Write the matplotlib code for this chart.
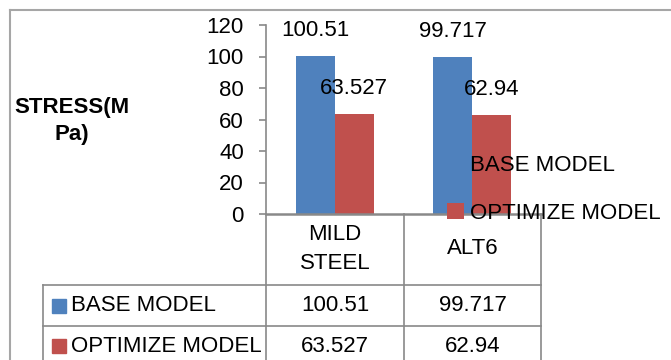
import matplotlib.pyplot as plt
import numpy as np
from matplotlib.lines import Line2D
from matplotlib.patches import Rectangle

# -----------------------------
# Data
# -----------------------------
categories = ["MILD\nSTEEL", "ALT6"]
series_names = ["BASE MODEL", "OPTIMIZE MODEL"]
base_model = [100.51, 99.717]
optimize_model = [63.527, 62.94]
value_text = [["100.51", "99.717"], ["63.527", "62.94"]]
colors = ["#4F81BD", "#C0504D"]

plt.rcParams["font.family"] = ["Liberation Sans", "DejaVu Sans"]
FS = 16
GRID = "#898989"

W, H = 671, 360
fig = plt.figure(figsize=(W / 100, H / 100), dpi=100)


def fx(px):
    return px / W


def fy(py):
    return 1 - py / H


# plot area in pixel coords
x0, x1, ytop, ybot = 266, 541, 25, 214
ax = fig.add_axes([fx(x0), fy(ybot), fx(x1 - x0), (ybot - ytop) / H])

x = np.arange(len(categories))
bw = 0.285
all_series = [base_model, optimize_model]
for i, vals in enumerate(all_series):
    off = (i - 0.5) * bw
    bars = ax.bar(x + off, vals, bw, color=colors[i], label=series_names[i],
                  edgecolor="none", zorder=2)
    for b, t in zip(bars, value_text[i]):
        ax.annotate(t, (b.get_x() + b.get_width() / 2, b.get_height()),
                    xytext=(0, 18), textcoords="offset points",
                    ha="center", va="center", fontsize=FS, zorder=5)

ax.set_xlim(-0.5, len(categories) - 0.5)
ax.set_ylim(0, 120)
ax.set_yticks(range(0, 121, 20))
ax.set_xticks([])
ax.tick_params(axis="y", labelsize=FS, length=5, color=GRID, width=1.2, pad=11)
for s in ["top", "right"]:
    ax.spines[s].set_visible(False)
ax.spines["left"].set_color(GRID)
ax.spines["left"].set_linewidth(1.2)
ax.spines["bottom"].set_color(GRID)
ax.spines["bottom"].set_linewidth(1.8)
ax.patch.set_alpha(0)

# legend sitting on the right, overlapping the bars like the original
leg = ax.legend(loc="upper left", bbox_to_anchor=(fx(438), fy(146)),
                bbox_transform=fig.transFigure, frameon=False, fontsize=FS,
                handlelength=0.75, handleheight=0.75, handletextpad=0.3,
                labelspacing=1.2, borderaxespad=0)
leg.set_zorder(10)

# y label
fig.text(fx(72), fy(121), "STRESS(M\nPa)", ha="center", va="center",
         fontsize=16, fontweight="bold", linespacing=1.4)

# -----------------------------
# Data table under the axis
# -----------------------------
cols = [266, 404, 541]
rows = [285, 326, 366]
tl = 43


def line(xs, ys, lw=1.2):
    fig.add_artist(Line2D([fx(v) for v in xs], [fy(v) for v in ys],
                          color=GRID, lw=lw))


for c in cols:
    line([c, c], [214, 362])
line([tl, tl], [285, 362])
line([tl, cols[-1]], [285, 285])
line([tl, cols[-1]], [326, 326])

col_centers = [(cols[j] + cols[j + 1]) / 2 for j in range(len(categories))]
for cx, cat in zip(col_centers, categories):
    fig.text(fx(cx), fy(249), cat, ha="center", va="center", fontsize=FS,
             linespacing=1.5)

row_centers = [(rows[k] + rows[k + 1]) / 2 for k in range(len(series_names))]
for k, (name, vals) in enumerate(zip(series_names, value_text)):
    cy = row_centers[k]
    fig.add_artist(Rectangle((fx(52), fy(cy + 7)), fx(14), 14 / H,
                             color=colors[k], transform=fig.transFigure))
    fig.text(fx(71), fy(cy), name, ha="left", va="center", fontsize=FS)
    for cx, v in zip(col_centers, vals):
        fig.text(fx(cx), fy(cy), v, ha="center", va="center", fontsize=FS)

# outer chart border
fig.add_artist(Line2D([fx(10), fx(W)], [fy(10), fy(10)], color="#a6a6a6", lw=1.5))
fig.add_artist(Line2D([fx(10), fx(10)], [fy(10), fy(H)], color="#a6a6a6", lw=1.5))

fig.savefig("out.png", dpi=100)
